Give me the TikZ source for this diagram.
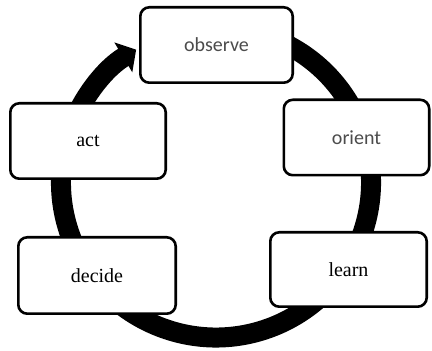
\documentclass[tikz,border=0pt]{standalone}
\usepackage{fontspec}
\setmainfont{Liberation Serif}
\newfontfamily\boxsans{Carlito}
\usetikzlibrary{arrows.meta}
\definecolor{sansgray}{gray}{0.3}
\tikzset{
  stagebox/.style={draw=black, line width=2.6pt, fill=white, rounded corners=9pt,
    inner sep=0pt, anchor=center},
  serifword/.style={font=\fontsize{20}{24}\selectfont, text=black},
  sansword/.style={font=\boxsans\fontsize{20}{24}\selectfont, text=sansgray},
  ring/.style={line width=20pt, -{Triangle[length=15pt,width=34pt]}}
}
\begin{document}
\begin{tikzpicture}[x=1pt,y=1pt]
\useasboundingbox (0,0) rectangle (432,351);
\coordinate (c) at (216,168.5);
% ring arrow (clockwise)
\draw[ring] ([shift={(70:155)}]c) arc[start angle=70, end angle=-239, radius=155];
% boxes
\node[stagebox, sansword, minimum width=152.4pt, minimum height=75.4pt] (observe) at (216.5,306) {observe};
\node[stagebox, sansword, minimum width=145.4pt, minimum height=75.4pt] (orient) at (356.5,213.5) {orient};
\node[stagebox, serifword, minimum width=155.4pt, minimum height=75.4pt] (act) at (88,210) {act\hspace{10pt}};
\node[stagebox, serifword, minimum width=157.4pt, minimum height=76.4pt] (decide) at (97,75.5) {decide\hspace{6pt}};
\node[stagebox, serifword, minimum width=156.4pt, minimum height=74.4pt] (learn) at (348.5,81.5) {learn\hspace{12pt}};
\end{tikzpicture}
\end{document}
